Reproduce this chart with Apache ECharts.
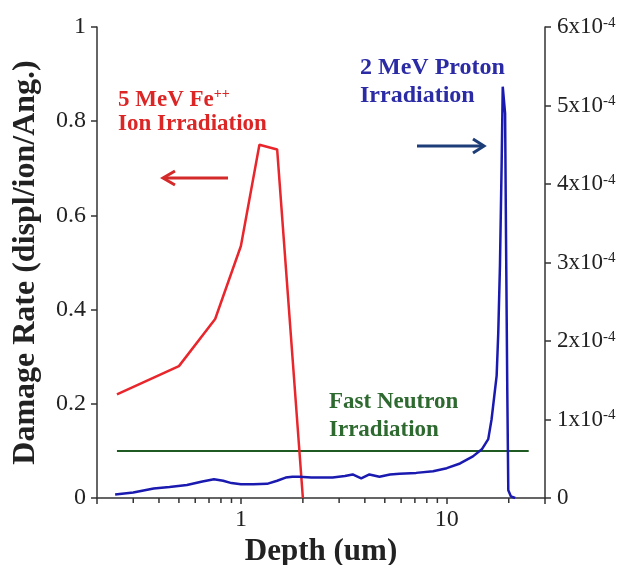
<!DOCTYPE html>
<html>
<head>
<meta charset="utf-8">
<script src="https://cdn.jsdelivr.net/npm/echarts@6/dist/echarts.min.js"></script>
<style>
  html, body { margin: 0; padding: 0; background: #fff; }
  #chart { width: 627px; height: 565px; }
</style>
</head>
<body>
<div id="chart"></div>
<script>
// depth in um, damage rate in displ/ion/Ang.
const ionDepth = [0.25, 0.5, 0.75, 1.0, 1.23, 1.5, 2.0]
const ionRate = [0.22, 0.28, 0.38, 0.535, 0.75, 0.74, 0.0]

const neutronDepth = [0.25, 25]
const neutronRate = [0.1, 0.1]

// proton rate in units of 1e-4 (right axis)
const protonDepth = [0.245, 0.3, 0.377, 0.45, 0.547, 0.65, 0.74, 0.82, 0.9, 1.0, 1.15, 1.34, 1.5, 1.65, 1.78, 1.92,
  2.2, 2.79, 3.2, 3.49, 3.84, 4.21, 4.71, 5.3, 5.9, 7.1, 8.58, 10.0, 11.6, 13.4, 14.8, 15.9, 16.5,
  17.47, 17.79, 18.13, 18.47, 18.7, 19.2, 19.4, 19.68, 19.9, 20.5, 21.5]
const protonRate = [0.045, 0.07, 0.12, 0.14, 0.165, 0.21, 0.24, 0.22, 0.19, 0.175, 0.175, 0.18, 0.22, 0.26, 0.27, 0.27,
  0.26, 0.26, 0.28, 0.30, 0.25, 0.30, 0.27, 0.30, 0.31, 0.32, 0.34, 0.38, 0.44, 0.53, 0.62, 0.75, 1.0,
  1.56, 2.11, 2.97, 4.25, 5.24, 4.90, 3.31, 1.34, 0.10, 0.02, 0.0]

const minorTicks = [0.3, 0.4, 0.5, 0.6, 0.7, 0.8, 0.9, 2, 3, 4, 5, 6, 7, 8, 9, 20]
const xLabels = [1, 10]

const serif = "'Liberation Serif', 'Times New Roman', serif"
const axisColor = '#333'
const textColor = '#222'

function zip(xs, ys) {
  return xs.map((x, i) => [x, ys[i]])
}

const chart = echarts.init(document.getElementById('chart'))

chart.setOption({
  animation: false,
  grid: { left: 97, right: 82, top: 27, bottom: 67, outerBoundsMode: 'none', containLabel: false },
  xAxis: {
    type: 'log',
    logBase: 10,
    min: 0.2,
    max: 30,
    name: 'Depth (um)',
    nameLocation: 'middle',
    nameGap: 35,
    nameTextStyle: { fontFamily: serif, fontWeight: 'bold', fontSize: 31, color: textColor },
    axisLine: { lineStyle: { color: axisColor, width: 1.5 } },
    axisTick: { length: 6, lineStyle: { color: axisColor, width: 1.5 } },
    axisLabel: {
      fontFamily: serif, fontSize: 24, color: textColor, margin: 10,
      formatter: v => (xLabels.indexOf(Math.round(v * 1000) / 1000) >= 0 ? String(Math.round(v)) : '')
    },
    splitLine: { show: false }
  },
  yAxis: [{
    type: 'value',
    min: 0,
    max: 1,
    interval: 0.2,
    name: 'Damage Rate (displ/ion/Ang.)',
    nameLocation: 'middle',
    nameGap: 55,
    nameTextStyle: { fontFamily: serif, fontWeight: 'bold', fontSize: 32, color: textColor },
    axisLine: { show: true, lineStyle: { color: axisColor, width: 1.5 } },
    axisTick: { show: true, length: 6, lineStyle: { color: axisColor, width: 1.5 } },
    axisLabel: { fontFamily: serif, fontSize: 24, color: textColor, margin: 11 },
    splitLine: { show: false }
  }, {
    type: 'value',
    min: 0,
    max: 6,
    interval: 1,
    position: 'right',
    axisLine: { show: true, lineStyle: { color: axisColor, width: 1.5 } },
    axisTick: { show: true, length: 6, lineStyle: { color: axisColor, width: 1.5 } },
    axisLabel: {
      fontFamily: serif, fontSize: 23, color: textColor, margin: 12,
      formatter: v => (v === 0 ? '0' : v + 'x10{sup|-4}'),
      rich: {
        sup: { fontFamily: serif, fontSize: 15, color: textColor, verticalAlign: 'top', lineHeight: 15, padding: [0, 0, 10, 0] }
      }
    },
    splitLine: { show: false }
  }],
  graphic: [
    {
      type: 'text', x: 118, y: 100,
      style: {
        text: '5 MeV Fe{sup|++}', fill: '#dc2626', fontFamily: serif, fontWeight: 'bold', fontSize: 23, verticalAlign: 'middle',
        rich: { sup: { fontFamily: serif, fontWeight: 'bold', fontSize: 14, fill: '#dc2626', verticalAlign: 'top', padding: [0, 0, 12, 0] } }
      }
    },
    { type: 'text', x: 118, y: 124, style: { text: 'Ion Irradiation', fill: '#dc2626', fontFamily: serif, fontWeight: 'bold', fontSize: 23, verticalAlign: 'middle' } },
    { type: 'text', x: 360, y: 68, style: { text: '2 MeV Proton', fill: '#2b2ba6', fontFamily: serif, fontWeight: 'bold', fontSize: 24, verticalAlign: 'middle' } },
    { type: 'text', x: 360, y: 96, style: { text: 'Irradiation', fill: '#2b2ba6', fontFamily: serif, fontWeight: 'bold', fontSize: 24, verticalAlign: 'middle' } },
    { type: 'text', x: 329, y: 402, style: { text: 'Fast Neutron', fill: '#2e6a30', fontFamily: serif, fontWeight: 'bold', fontSize: 23, verticalAlign: 'middle' } },
    { type: 'text', x: 329, y: 430, style: { text: 'Irradiation', fill: '#2e6a30', fontFamily: serif, fontWeight: 'bold', fontSize: 23, verticalAlign: 'middle' } },
    // arrows
    { type: 'line', shape: { x1: 228, y1: 178, x2: 164, y2: 178 }, style: { stroke: '#d42a2a', lineWidth: 3 } },
    { type: 'polyline', shape: { points: [[175, 171], [163, 178], [175, 185]] }, style: { stroke: '#d42a2a', lineWidth: 3, fill: null } },
    { type: 'line', shape: { x1: 417, y1: 146, x2: 482, y2: 146 }, style: { stroke: '#1d3d78', lineWidth: 3 } },
    { type: 'polyline', shape: { points: [[473, 139], [484, 146], [473, 153]] }, style: { stroke: '#1d3d78', lineWidth: 3, fill: null } }
  ],
  series: [
    {
      name: 'Fast Neutron',
      type: 'line',
      data: zip(neutronDepth, neutronRate),
      showSymbol: false,
      lineStyle: { color: '#1f5a22', width: 2 }
    },
    {
      name: '5 MeV Fe++',
      type: 'line',
      data: zip(ionDepth, ionRate),
      showSymbol: false,
      lineStyle: { color: '#e8262c', width: 2.5 }
    },
    {
      name: '2 MeV Proton',
      type: 'line',
      yAxisIndex: 1,
      data: zip(protonDepth, protonRate),
      showSymbol: false,
      lineStyle: { color: '#1a1ab0', width: 2.5 }
    },
    {
      // minor log ticks below the x axis
      type: 'custom',
      silent: true,
      clip: false,
      data: minorTicks.map(v => [v, 0]),
      renderItem: (params, api) => {
        const p = api.coord([api.value(0), 0])
        return {
          type: 'line',
          shape: { x1: p[0], y1: p[1], x2: p[0], y2: p[1] + 5 },
          style: { stroke: axisColor, lineWidth: 1.5 }
        }
      }
    }
  ]
})
</script>
</body>
</html>
